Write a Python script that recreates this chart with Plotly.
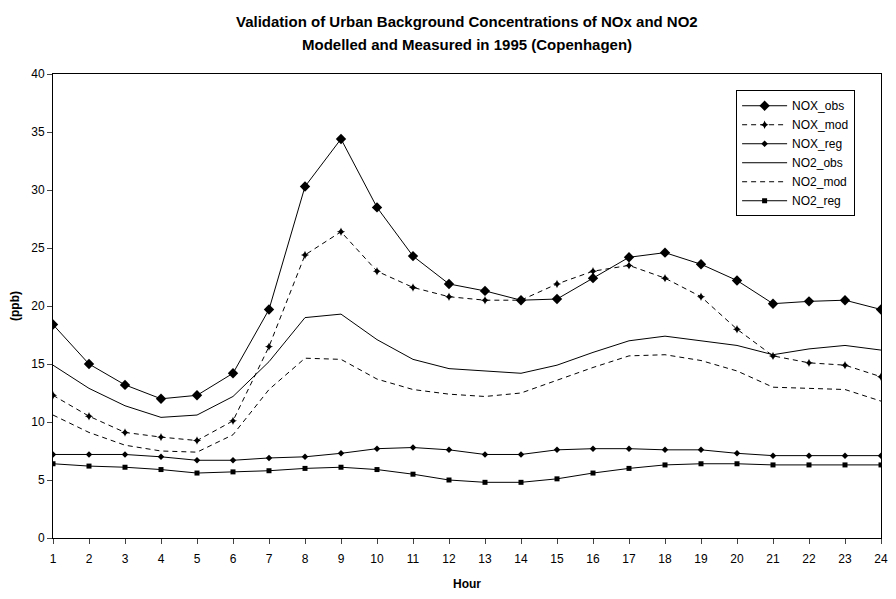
import plotly.graph_objects as go

# hourly means, ppb
hours = list(range(1, 25))
nox_obs = [18.4, 15.0, 13.2, 12.0, 12.3, 14.2, 19.7, 30.3, 34.4, 28.5, 24.3, 21.9,
           21.3, 20.5, 20.6, 22.4, 24.2, 24.6, 23.6, 22.2, 20.2, 20.4, 20.5, 19.7]
nox_mod = [12.3, 10.5, 9.1, 8.7, 8.4, 10.1, 16.5, 24.4, 26.4, 23.0, 21.6, 20.8,
           20.5, 20.5, 21.9, 23.0, 23.5, 22.4, 20.8, 18.0, 15.7, 15.1, 14.9, 13.9]
nox_reg = [7.2, 7.2, 7.2, 7.0, 6.7, 6.7, 6.9, 7.0, 7.3, 7.7, 7.8, 7.6,
           7.2, 7.2, 7.6, 7.7, 7.7, 7.6, 7.6, 7.3, 7.1, 7.1, 7.1, 7.1]
no2_obs = [14.9, 12.9, 11.4, 10.4, 10.6, 12.2, 15.2, 19.0, 19.3, 17.1, 15.4, 14.6,
           14.4, 14.2, 14.9, 16.0, 17.0, 17.4, 17.0, 16.6, 15.8, 16.3, 16.6, 16.2]
no2_mod = [10.6, 9.1, 8.0, 7.5, 7.4, 8.9, 12.8, 15.5, 15.4, 13.7, 12.8, 12.4,
           12.2, 12.5, 13.6, 14.7, 15.7, 15.8, 15.3, 14.4, 13.0, 12.9, 12.8, 11.8]
no2_reg = [6.4, 6.2, 6.1, 5.9, 5.6, 5.7, 5.8, 6.0, 6.1, 5.9, 5.5, 5.0,
           4.8, 4.8, 5.1, 5.6, 6.0, 6.3, 6.4, 6.4, 6.3, 6.3, 6.3, 6.3]

FONT = "Arial, Liberation Sans, sans-serif"
DASH = "5px,4px"

series = [
    ("NOX_obs", nox_obs, "solid", "lines+markers", "diamond", 8),
    ("NOX_mod", nox_mod, DASH, "lines+markers", "star-diamond", 6),
    ("NOX_reg", nox_reg, "solid", "lines+markers", "diamond", 5),
    ("NO2_obs", no2_obs, "solid", "lines", None, 0),
    ("NO2_mod", no2_mod, DASH, "lines", None, 0),
    ("NO2_reg", no2_reg, "solid", "lines+markers", "square", 5),
]

fig = go.Figure()
for name, vals, dash, mode, sym, sz in series:
    tr = dict(x=hours, y=vals, name=name, mode=mode,
              line=dict(color="black", width=1, dash=dash))
    if sym:
        tr["marker"] = dict(symbol=sym, size=sz, color="black")
    fig.add_trace(go.Scatter(**tr))

# page body has an 8px margin, so the figure is 16px smaller than the window
fig.update_layout(
    width=880, height=583,
    margin=dict(l=45, r=7, t=66, b=53, autoexpand=False),
    paper_bgcolor="white", plot_bgcolor="white",
    font=dict(family=FONT, size=12, color="black"),
    showlegend=True,
    legend=dict(x=0.825, y=0.965, xanchor="left", yanchor="top",
                bordercolor="black", borderwidth=1, bgcolor="white",
                font=dict(size=12), tracegroupgap=0, itemwidth=45),
)

fig.update_xaxes(range=[1, 24], tickvals=hours, ticks="outside", ticklen=5,
                 ticklabelstandoff=5,
                 showline=True, linecolor="black", linewidth=1, mirror=True,
                 showgrid=False, zeroline=False, automargin=False,
                 title=dict(text="<b>Hour</b>", font=dict(size=12), standoff=14))
fig.update_yaxes(range=[0, 40], dtick=5, ticks="outside", ticklen=5,
                 showline=True, linecolor="black", linewidth=1, mirror=True,
                 showgrid=False, zeroline=False, automargin=False,
                 title=dict(text="<b>(ppb)</b>", font=dict(size=12), standoff=12))

# two title lines, centred over the plot area
fig.add_annotation(text="<b>Validation of Urban Background Concentrations of NOx and NO2</b>",
                   xref="paper", yref="paper", x=0.5, y=1.0, yshift=63,
                   showarrow=False, font=dict(size=15))
fig.add_annotation(text="<b>Modelled and Measured in 1995 (Copenhagen)</b>",
                   xref="paper", yref="paper", x=0.5, y=1.0, yshift=40,
                   showarrow=False, font=dict(size=15))

fig.write_html("out.html")
